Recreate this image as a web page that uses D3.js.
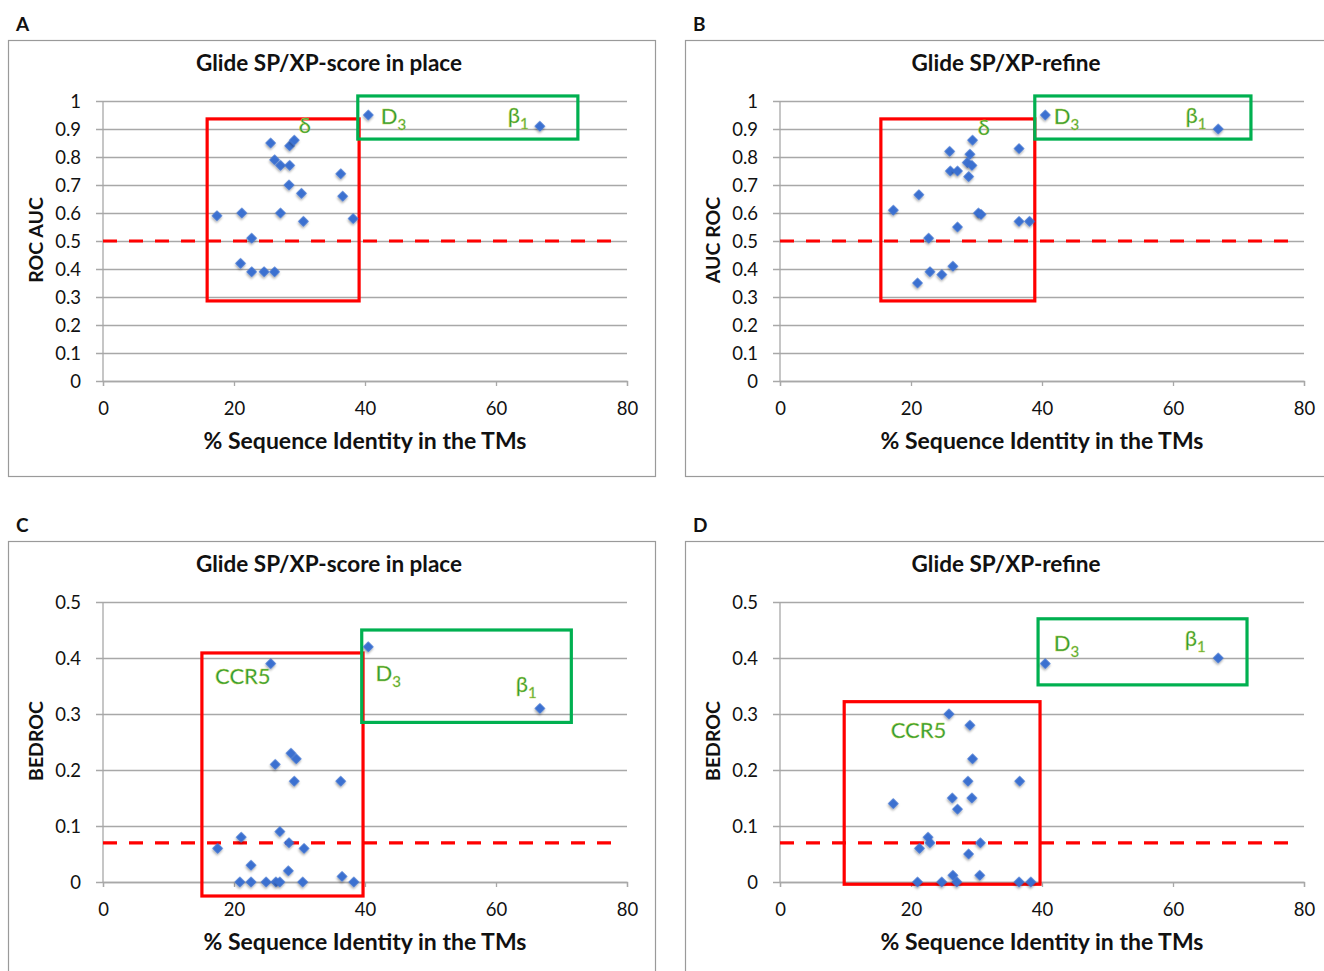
<!DOCTYPE html>
<html>
<head>
<meta charset="utf-8">
<script src="https://cdn.jsdelivr.net/npm/d3@7/dist/d3.min.js"></script>
<style>
  body { margin: 0; background: #fff; }
  svg { display: block; font-family: Lato, "Open Sans", sans-serif; }
</style>
</head>
<body>
<svg id="chart" width="1324" height="971"></svg>
<script>
// ---------- data ----------
const xTicks = [0, 20, 40, 60, 80];
const aucTicks = [0, 0.1, 0.2, 0.3, 0.4, 0.5, 0.6, 0.7, 0.8, 0.9, 1];
const bedrocTicks = [0, 0.1, 0.2, 0.3, 0.4, 0.5];

// Panel A: Glide SP/XP-score in place, ROC AUC
const seqIdA = [25.6, 28.5, 29.2, 26.2, 27.1, 28.5, 28.4, 30.3, 36.3, 36.6, 17.4, 21.2, 27.1, 30.6, 38.2, 22.7, 21.0, 22.7, 24.6, 26.2, 40.5, 66.7];
const rocA   = [0.85, 0.84, 0.86, 0.79, 0.77, 0.77, 0.70, 0.67, 0.74, 0.66, 0.59, 0.60, 0.60, 0.57, 0.58, 0.51, 0.42, 0.39, 0.39, 0.39, 0.95, 0.91];

// Panel B: Glide SP/XP-refine, AUC ROC
const seqIdB = [29.4, 25.9, 29.0, 36.5, 26.0, 27.1, 28.6, 29.3, 28.8, 21.2, 17.3, 30.3, 30.7, 27.1, 36.5, 38.1, 22.7, 22.9, 24.7, 26.4, 21.0, 40.5, 66.9];
const aucB   = [0.86, 0.82, 0.81, 0.83, 0.75, 0.75, 0.78, 0.77, 0.73, 0.665, 0.61, 0.60, 0.595, 0.55, 0.57, 0.57, 0.51, 0.39, 0.38, 0.41, 0.35, 0.95, 0.90];

// Panel C: Glide SP/XP-score in place, BEDROC
const seqIdC  = [25.6, 28.7, 29.5, 26.3, 29.2, 36.3, 27.0, 21.1, 28.4, 17.5, 30.7, 22.6, 28.3, 36.5, 20.9, 22.6, 24.9, 26.4, 27.0, 30.5, 38.3, 40.5, 66.7];
const bedrocC = [0.39, 0.23, 0.22, 0.21, 0.18, 0.18, 0.09, 0.08, 0.07, 0.06, 0.06, 0.03, 0.02, 0.01, 0, 0, 0, 0, 0, 0, 0, 0.42, 0.31];

// Panel D: Glide SP/XP-refine, BEDROC
const seqIdD  = [25.8, 29.0, 29.4, 28.7, 36.6, 26.3, 29.3, 17.3, 27.1, 22.6, 21.3, 22.9, 30.6, 28.8, 30.5, 26.4, 21.0, 24.7, 27.0, 36.5, 38.3, 40.5, 66.9];
const bedrocD = [0.30, 0.28, 0.22, 0.18, 0.18, 0.15, 0.15, 0.14, 0.13, 0.08, 0.06, 0.07, 0.07, 0.05, 0.012, 0.012, 0, 0, 0, 0, 0, 0.39, 0.40];

// thresholds (random level)
const thresholds = [0.5, 0.5, 0.07, 0.07];

// highlight boxes [x0, x1, y0, y1] in data units
const redBoxes   = [[15.9, 39.1, 0.286, 0.936], [15.4, 38.9, 0.286, 0.936], [15.1, 39.7, -0.025, 0.409], [9.8, 39.7, -0.004, 0.322]];
const greenBoxes = [[38.9, 72.5, 0.864, 1.018], [38.9, 71.9, 0.864, 1.018], [39.5, 71.5, 0.285, 0.45], [39.4, 71.3, 0.352, 0.47]];

// annotation labels: [text, subscript, x, y]
const labelsA = [["δ", "", 29.9, 0.885], ["D", "3", 42.4, 0.918], ["β", "1", 61.8, 0.921]];
const labelsB = [["δ", "", 30.2, 0.878], ["D", "3", 41.8, 0.918], ["β", "1", 61.9, 0.921]];
const labelsC = [["CCR5", "", 17.1, 0.354], ["D", "3", 41.6, 0.359], ["β", "1", 63.0, 0.34]];
const labelsD = [["CCR5", "", 16.9, 0.258], ["D", "3", 41.8, 0.413], ["β", "1", 61.8, 0.422]];

const panelLetters = ["A", "B", "C", "D"];
const titles = ["Glide SP/XP-score in place", "Glide SP/XP-refine", "Glide SP/XP-score in place", "Glide SP/XP-refine"];
const yTitles = ["ROC AUC", "AUC ROC", "BEDROC", "BEDROC"];
const xTitle = "% Sequence Identity in the TMs";

// ---------- layout ----------
const svg = d3.select("#chart");
const defs = svg.append("defs");
const f = defs.append("filter").attr("id", "shadow").attr("x", "-50%").attr("y", "-50%").attr("width", "200%").attr("height", "200%");
f.append("feDropShadow").attr("dx", 1).attr("dy", 1.5).attr("stdDeviation", 1).attr("flood-color", "#000").attr("flood-opacity", 0.35);

const panels = [
  { ox: 0,   oy: 0,   xs: seqIdA, ys: rocA,    ticks: aucTicks,    ymax: 1,   red: redBoxes[0], green: greenBoxes[0], labels: labelsA, thr: thresholds[0] },
  { ox: 677, oy: 0,   xs: seqIdB, ys: aucB,    ticks: aucTicks,    ymax: 1,   red: redBoxes[1], green: greenBoxes[1], labels: labelsB, thr: thresholds[1] },
  { ox: 0,   oy: 501, xs: seqIdC, ys: bedrocC, ticks: bedrocTicks, ymax: 0.5, red: redBoxes[2], green: greenBoxes[2], labels: labelsC, thr: thresholds[2] },
  { ox: 677, oy: 501, xs: seqIdD, ys: bedrocD, ticks: bedrocTicks, ymax: 0.5, red: redBoxes[3], green: greenBoxes[3], labels: labelsD, thr: thresholds[3] }
];

const labelColor = "#2a9b38";
const gridColor = "#a8a8a8";

panels.forEach((p, i) => {
  const g = svg.append("g").attr("transform", `translate(${p.ox},${p.oy})`);
  const frameW = i % 2 === 0 ? 647 : 660;
  const frameH = i < 2 ? 436 : 440;

  // panel letter
  g.append("text").attr("x", 16).attr("y", 31).attr("font-size", 19).attr("font-weight", 700)
    .attr("fill", "#111").text(panelLetters[i]);

  // frame
  g.append("rect").attr("x", 8.5).attr("y", 40.5).attr("width", frameW).attr("height", frameH)
    .attr("fill", "none").attr("stroke", "#9a9a9a").attr("stroke-width", 1.2);

  const x = d3.scaleLinear().domain([0, 80]).range([103, 627]);
  const y = d3.scaleLinear().domain([0, p.ymax]).range([381, 101]);

  // title
  g.append("text").attr("x", 329).attr("y", 71).attr("text-anchor", "middle")
    .attr("font-size", 22.5).attr("font-weight", 700).attr("fill", "#111").text(titles[i]);

  // gridlines + y axis
  const yAxis = d3.axisLeft(y).tickValues(p.ticks).tickSize(-(627 - 96)).tickPadding(15)
    .tickFormat(d => d3.format("")(+d.toFixed(1)));
  const ya = g.append("g").attr("transform", "translate(96,0)").call(yAxis);
  ya.select(".domain").remove();
  ya.selectAll(".tick line").attr("stroke", gridColor).attr("stroke-width", 1.3);
  ya.selectAll(".tick text").attr("font-size", 18.5).attr("fill", "#111").attr("font-family", "Lato, sans-serif").attr("dy", "0.35em");

  // vertical axis line
  g.append("line").attr("x1", 103).attr("x2", 103).attr("y1", 101).attr("y2", 381)
    .attr("stroke", gridColor).attr("stroke-width", 1.3);

  // x axis
  const xAxis = d3.axisBottom(x).tickValues(xTicks).tickSize(5).tickPadding(16);
  const xa = g.append("g").attr("transform", "translate(0,381)").call(xAxis);
  xa.select(".domain").attr("stroke", gridColor).attr("stroke-width", 1.3);
  xa.selectAll(".tick line").attr("stroke", gridColor).attr("stroke-width", 1.3);
  xa.selectAll(".tick text").attr("font-size", 18.5).attr("fill", "#111").attr("font-family", "Lato, sans-serif");

  // axis titles
  g.append("text").attr("x", 365).attr("y", 449).attr("text-anchor", "middle")
    .attr("font-size", 23).attr("font-weight", 700).attr("fill", "#111").text(xTitle);
  g.append("text").attr("transform", `translate(43,240) rotate(-90)`).attr("text-anchor", "middle")
    .attr("font-size", 19.5).attr("font-weight", 700).attr("fill", "#111").text(yTitles[i]);

  // threshold dashed line
  g.append("line").attr("x1", x(0)).attr("x2", x(78)).attr("y1", y(p.thr)).attr("y2", y(p.thr))
    .attr("stroke", "#ff0000").attr("stroke-width", 3.2).attr("stroke-dasharray", "14,12");

  // highlight boxes
  [[p.red, "#ff0000"], [p.green, "#00b050"]].forEach(([b, c]) => {
    g.append("rect").attr("x", x(b[0])).attr("y", y(b[3]))
      .attr("width", x(b[1]) - x(b[0])).attr("height", y(b[2]) - y(b[3]))
      .attr("fill", "none").attr("stroke", c).attr("stroke-width", 3.2);
  });

  // points
  const diamond = d3.symbol().type(d3.symbolSquare).size(58);
  g.append("g").selectAll("path").data(p.xs.map((v, k) => [v, p.ys[k]])).join("path")
    .attr("d", diamond)
    .attr("transform", d => `translate(${x(d[0])},${y(d[1])}) rotate(45)`)
    .attr("fill", "#3a6fd0").attr("filter", "url(#shadow)");

  // labels
  p.labels.forEach(l => {
    const t = g.append("text").attr("x", x(l[2])).attr("y", y(l[3]))
      .attr("font-size", 22).attr("fill", labelColor).attr("stroke", "#c9d64a").attr("stroke-width", 0.4)
      .attr("font-family", "Lato, sans-serif");
    t.append("tspan").text(l[0]);
    if (l[1]) t.append("tspan").attr("font-size", 15).attr("dy", 6).text(l[1]);
  });
});
</script>
</body>
</html>
